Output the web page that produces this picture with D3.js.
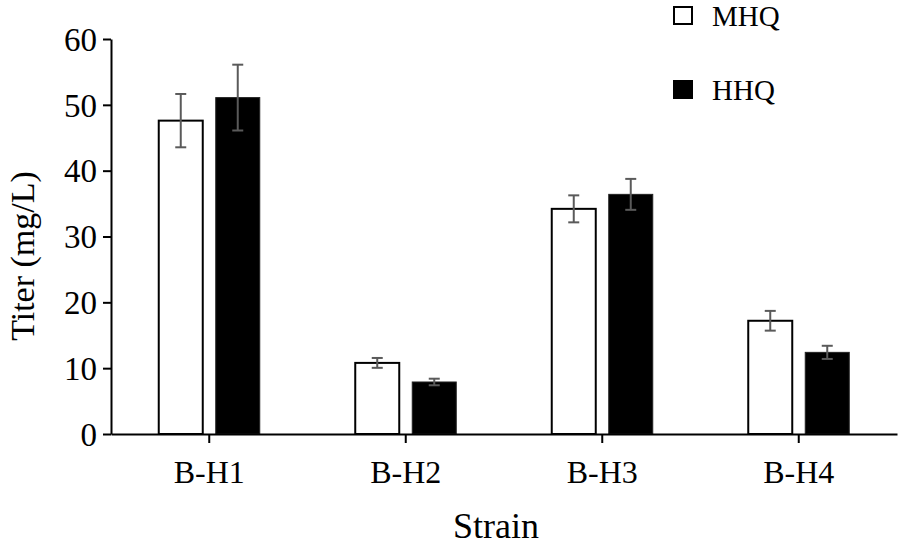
<!DOCTYPE html>
<html>
<head>
<meta charset="utf-8">
<script src="https://cdn.jsdelivr.net/npm/d3@7"></script>
<style>
  body { margin: 0; background: #fff; }
  text { font-family: "Liberation Serif", "Times New Roman", serif; fill: #000; }
</style>
</head>
<body>
<script>
// Data
var strains = ["B-H1", "B-H2", "B-H3", "B-H4"];
var seriesNames = ["MHQ", "HHQ"];
var mhqValues = [47.6, 10.8, 34.2, 17.2];
var mhqErrors = [4.05, 0.75, 2.05, 1.5];
var hhqValues = [51.1, 7.9, 36.4, 12.4];
var hhqErrors = [5.0, 0.5, 2.35, 1.0];
var yTicks = [0, 10, 20, 30, 40, 50, 60];

var width = 898;
var height = 549;
var margin = { left: 111, right: 1, top: 39, bottom: 115 };

var svg = d3.select("body")
            .append("svg")
            .attr("width", width)
            .attr("height", height);

var rows = strains.map(function(s, i) {
  return [
    { strain: s, series: "MHQ", value: mhqValues[i], err: mhqErrors[i] },
    { strain: s, series: "HHQ", value: hhqValues[i], err: hhqErrors[i] }
  ];
});

var x0 = d3.scaleBand()
           .domain(strains)
           .range([margin.left, width - margin.right])
           .paddingInner(0.486)
           .paddingOuter(0.243);

var x1 = d3.scaleBand()
           .domain(seriesNames)
           .range([0, x0.bandwidth()])
           .paddingInner(0.228)
           .paddingOuter(0);

var yScale = d3.scaleLinear()
               .domain([0, 60])
               .range([height - margin.bottom, margin.top]);

var fills = { MHQ: "#fff", HHQ: "#000" };

// Bars
var groups = svg.selectAll("g.strain")
                .data(rows)
                .enter()
                .append("g")
                .attr("class", "strain")
                .attr("transform", function(d) {
                  return "translate(" + x0(d[0].strain) + ",0)";
                });

groups.selectAll("rect")
      .data(function(d) { return d; })
      .enter()
      .append("rect")
      .attr("x", function(d) { return x1(d.series); })
      .attr("y", function(d) { return yScale(d.value); })
      .attr("width", x1.bandwidth())
      .attr("height", function(d) { return yScale(0) - yScale(d.value); })
      .attr("fill", function(d) { return fills[d.series]; })
      .attr("stroke", function(d) { return d.series === "MHQ" ? "#000" : "#222"; })
      .attr("stroke-width", function(d) { return d.series === "MHQ" ? 2 : 1; });

// Error bars
var errG = groups.selectAll("g.err")
                 .data(function(d) { return d; })
                 .enter()
                 .append("g")
                 .attr("class", "err")
                 .attr("stroke", "#5a5a5a")
                 .attr("stroke-width", 2);

var cx = function(d) { return x1(d.series) + x1.bandwidth() / 2; };

errG.append("line")
    .attr("x1", cx).attr("x2", cx)
    .attr("y1", function(d) { return yScale(d.value + d.err); })
    .attr("y2", function(d) { return yScale(d.value - d.err); });

errG.append("line")
    .attr("x1", function(d) { return cx(d) - 5.5; })
    .attr("x2", function(d) { return cx(d) + 5.5; })
    .attr("y1", function(d) { return yScale(d.value + d.err); })
    .attr("y2", function(d) { return yScale(d.value + d.err); });

errG.append("line")
    .attr("x1", function(d) { return cx(d) - 5.5; })
    .attr("x2", function(d) { return cx(d) + 5.5; })
    .attr("y1", function(d) { return yScale(d.value - d.err); })
    .attr("y2", function(d) { return yScale(d.value - d.err); });

// Axes
var xAxis = d3.axisBottom(x0)
              .tickSize(9)
              .tickSizeOuter(0)
              .tickPadding(17);

var yAxis = d3.axisLeft(yScale)
              .tickValues(yTicks)
              .tickSize(8)
              .tickSizeOuter(0)
              .tickPadding(6);

var gx = svg.append("g")
            .attr("class", "x-axis")
            .attr("transform", "translate(0," + yScale(0) + ")")
            .call(xAxis);

var gy = svg.append("g")
            .attr("class", "y-axis")
            .attr("transform", "translate(" + margin.left + ",0)")
            .call(yAxis);

svg.selectAll(".x-axis path, .x-axis line, .y-axis path, .y-axis line")
   .attr("stroke", "#000")
   .attr("stroke-width", 2);

gx.selectAll("text")
  .attr("font-size", "32px")
  .attr("font-family", "Liberation Serif")
  .attr("fill", "#000");

gy.selectAll("text")
  .attr("font-size", "33px")
  .attr("font-family", "Liberation Serif")
  .attr("dy", "0.34em")
  .attr("fill", "#000");

// Axis titles
svg.append("text")
   .attr("x", 496)
   .attr("y", 538)
   .attr("text-anchor", "middle")
   .attr("font-size", "36px")
   .text("Strain");

svg.append("text")
   .attr("transform", "translate(34,256) rotate(-90)")
   .attr("text-anchor", "middle")
   .attr("font-size", "34px")
   .text("Titer (mg/L)");

// Legend
var legend = svg.selectAll("g.legend")
                .data(seriesNames)
                .enter()
                .append("g")
                .attr("class", "legend")
                .attr("transform", function(d, i) {
                  return "translate(674," + (7 + i * 74) + ")";
                });

legend.append("rect")
      .attr("width", 18)
      .attr("height", 17)
      .attr("fill", function(d) { return fills[d]; })
      .attr("stroke", "#000")
      .attr("stroke-width", 2);

legend.append("text")
      .attr("x", 38)
      .attr("y", 19)
      .attr("font-size", "29px")
      .text(function(d) { return d; });
</script>
</body>
</html>
